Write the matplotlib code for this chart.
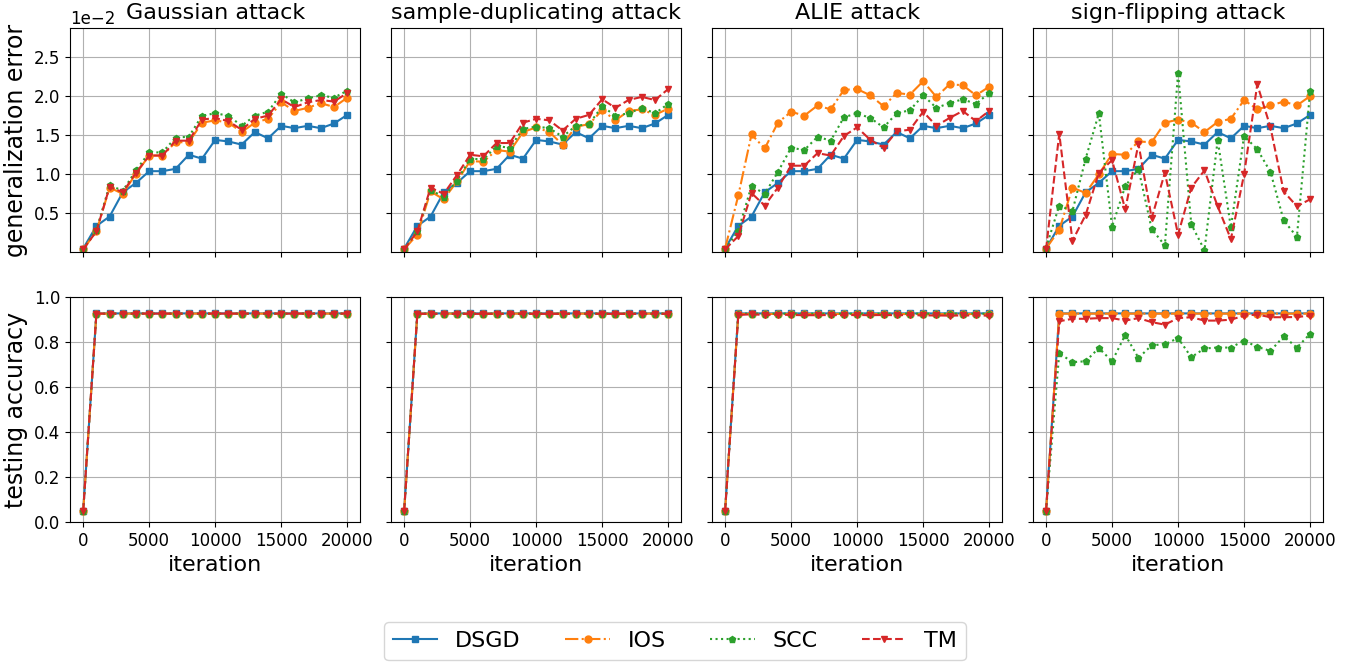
import matplotlib
matplotlib.use("Agg")
import matplotlib.pyplot as plt
import numpy as np

iterations = [0, 1000, 2000, 3000, 4000, 5000, 6000, 7000, 8000, 9000, 10000,
              11000, 12000, 13000, 14000, 15000, 16000, 17000, 18000, 19000, 20000]
attacks = ["Gaussian attack", "sample-duplicating attack", "ALIE attack", "sign-flipping attack"]
methods = ["DSGD", "IOS", "SCC", "TM"]

# generalization error (x1e-2)
dsgd_err = [0.05, 0.34, 0.46, 0.77, 0.89, 1.04, 1.04, 1.07, 1.25, 1.20, 1.44,
            1.42, 1.38, 1.54, 1.46, 1.62, 1.59, 1.62, 1.59, 1.65, 1.76]

gauss_ios = [0.04, 0.27, 0.83, 0.75, 1.01, 1.24, 1.24, 1.41, 1.41, 1.66, 1.69,
             1.66, 1.54, 1.66, 1.71, 1.92, 1.81, 1.85, 1.91, 1.86, 1.98]
gauss_scc = [0.04, 0.29, 0.86, 0.79, 1.05, 1.28, 1.28, 1.47, 1.48, 1.75, 1.78,
             1.75, 1.62, 1.75, 1.80, 2.03, 1.92, 1.97, 2.01, 1.98, 2.07]
gauss_tm = [0.04, 0.27, 0.84, 0.77, 1.02, 1.24, 1.24, 1.43, 1.43, 1.70, 1.72,
            1.68, 1.57, 1.71, 1.75, 1.96, 1.86, 1.92, 1.95, 1.93, 2.04]

dup_ios = [0.04, 0.23, 0.78, 0.68, 0.91, 1.17, 1.16, 1.31, 1.29, 1.54, 1.60,
           1.54, 1.38, 1.61, 1.64, 1.82, 1.69, 1.81, 1.83, 1.76, 1.84]
dup_scc = [0.04, 0.28, 0.80, 0.71, 0.92, 1.20, 1.19, 1.36, 1.34, 1.58, 1.61,
           1.59, 1.48, 1.62, 1.64, 1.87, 1.75, 1.78, 1.85, 1.78, 1.90]
dup_tm = [0.04, 0.27, 0.83, 0.75, 0.99, 1.25, 1.23, 1.40, 1.40, 1.66, 1.71,
          1.69, 1.56, 1.71, 1.76, 1.96, 1.85, 1.95, 1.99, 1.95, 2.09]

alie_ios = [0.05, 0.73, 1.51, 1.33, 1.66, 1.80, 1.75, 1.88, 1.83, 2.08, 2.09,
            2.01, 1.87, 2.04, 2.02, 2.19, 1.99, 2.15, 2.14, 2.01, 2.12]
alie_scc = [0.04, 0.28, 0.85, 0.75, 1.03, 1.34, 1.31, 1.48, 1.43, 1.73, 1.78,
            1.72, 1.60, 1.78, 1.82, 2.01, 1.85, 1.91, 1.96, 1.90, 2.04]
alie_tm = [0.04, 0.21, 0.76, 0.60, 0.83, 1.11, 1.11, 1.27, 1.24, 1.49, 1.60,
           1.44, 1.34, 1.55, 1.57, 1.80, 1.62, 1.72, 1.81, 1.68, 1.81]

sf_ios = [0.05, 0.29, 0.83, 0.76, 1.00, 1.26, 1.25, 1.42, 1.41, 1.66, 1.70,
          1.66, 1.54, 1.67, 1.71, 1.95, 1.83, 1.88, 1.93, 1.88, 2.00]
sf_scc = [0.06, 0.60, 0.53, 1.20, 1.78, 0.33, 0.85, 1.07, 0.30, 0.09, 2.30,
          0.36, 0.03, 1.44, 0.32, 1.49, 1.32, 1.03, 0.41, 0.20, 2.06]
sf_tm = [0.04, 1.52, 0.15, 0.48, 1.02, 1.18, 0.55, 1.39, 0.44, 1.02, 0.23,
         0.83, 1.05, 0.59, 0.17, 1.00, 2.15, 1.60, 0.78, 0.59, 0.68]

# testing accuracy
dsgd_acc = [0.05, 0.928, 0.928, 0.928, 0.928, 0.928, 0.928, 0.928, 0.928, 0.928, 0.928,
            0.928, 0.928, 0.928, 0.928, 0.928, 0.928, 0.928, 0.928, 0.928, 0.928]
gauss_ios_acc = [0.05, 0.927, 0.927, 0.927, 0.927, 0.927, 0.927, 0.927, 0.927, 0.927, 0.927,
                 0.927, 0.927, 0.927, 0.927, 0.927, 0.927, 0.927, 0.927, 0.927, 0.927]
gauss_scc_acc = [0.05, 0.927, 0.927, 0.927, 0.927, 0.927, 0.927, 0.927, 0.927, 0.927, 0.927,
                 0.927, 0.927, 0.927, 0.927, 0.927, 0.927, 0.927, 0.927, 0.927, 0.927]
gauss_tm_acc = [0.05, 0.927, 0.927, 0.927, 0.927, 0.927, 0.927, 0.927, 0.927, 0.927, 0.927,
                0.927, 0.927, 0.927, 0.927, 0.927, 0.927, 0.927, 0.927, 0.927, 0.927]
dup_ios_acc = [0.05, 0.927, 0.927, 0.927, 0.927, 0.927, 0.927, 0.927, 0.927, 0.927, 0.927,
               0.927, 0.927, 0.927, 0.927, 0.927, 0.927, 0.927, 0.927, 0.927, 0.927]
dup_scc_acc = [0.05, 0.927, 0.927, 0.927, 0.927, 0.927, 0.927, 0.927, 0.927, 0.927, 0.927,
               0.927, 0.927, 0.927, 0.927, 0.927, 0.927, 0.927, 0.927, 0.927, 0.927]
dup_tm_acc = [0.05, 0.926, 0.926, 0.926, 0.926, 0.926, 0.926, 0.926, 0.926, 0.926, 0.926,
              0.926, 0.926, 0.926, 0.926, 0.926, 0.926, 0.926, 0.926, 0.926, 0.926]
alie_ios_acc = [0.05, 0.925, 0.926, 0.925, 0.926, 0.925, 0.925, 0.925, 0.926, 0.925, 0.925,
                0.925, 0.925, 0.925, 0.925, 0.925, 0.925, 0.925, 0.925, 0.925, 0.925]
alie_scc_acc = [0.05, 0.927, 0.927, 0.927, 0.927, 0.927, 0.927, 0.927, 0.927, 0.927, 0.927,
                0.927, 0.927, 0.927, 0.927, 0.927, 0.927, 0.927, 0.927, 0.927, 0.927]
alie_tm_acc = [0.05, 0.921, 0.924, 0.921, 0.923, 0.921, 0.920, 0.920, 0.921, 0.920, 0.921,
               0.920, 0.921, 0.920, 0.921, 0.919, 0.919, 0.918, 0.919, 0.919, 0.918]
sf_ios_acc = [0.05, 0.927, 0.927, 0.927, 0.927, 0.927, 0.927, 0.927, 0.927, 0.927, 0.927,
              0.927, 0.927, 0.927, 0.927, 0.927, 0.927, 0.927, 0.927, 0.927, 0.927]
sf_scc_acc = [0.05, 0.751, 0.711, 0.715, 0.774, 0.715, 0.832, 0.730, 0.786, 0.791, 0.818,
              0.733, 0.772, 0.776, 0.776, 0.807, 0.779, 0.761, 0.826, 0.776, 0.837]
sf_tm_acc = [0.05, 0.893, 0.904, 0.904, 0.907, 0.907, 0.896, 0.907, 0.889, 0.878, 0.907,
             0.911, 0.896, 0.896, 0.900, 0.918, 0.923, 0.911, 0.911, 0.912, 0.918]

err_data = [
    [dsgd_err, gauss_ios, gauss_scc, gauss_tm],
    [dsgd_err, dup_ios, dup_scc, dup_tm],
    [dsgd_err, alie_ios, alie_scc, alie_tm],
    [dsgd_err, sf_ios, sf_scc, sf_tm],
]
acc_data = [
    [dsgd_acc, gauss_ios_acc, gauss_scc_acc, gauss_tm_acc],
    [dsgd_acc, dup_ios_acc, dup_scc_acc, dup_tm_acc],
    [dsgd_acc, alie_ios_acc, alie_scc_acc, alie_tm_acc],
    [dsgd_acc, sf_ios_acc, sf_scc_acc, sf_tm_acc],
]

styles = [
    dict(color="tab:blue", linestyle="-", marker="s"),
    dict(color="tab:orange", linestyle="-.", marker="o"),
    dict(color="tab:green", linestyle=":", marker="p"),
    dict(color="tab:red", linestyle="--", marker="v"),
]

W, H = 1361, 662
fig, axes = plt.subplots(2, 4, figsize=(W / 100, H / 100), dpi=100,
                         sharex=True, sharey="row")
fig.subplots_adjust(left=70 / W, right=1323.3 / W, top=1 - 27.7 / H,
                    bottom=1 - 522 / H, wspace=0.105, hspace=0.199)

x = np.array(iterations)
handles = []
for c in range(4):
    ax_e = axes[0, c]
    ax_a = axes[1, c]
    for m in range(4):
        h, = ax_e.plot(x, np.array(err_data[c][m]) * 1e-2, markersize=5,
                       linewidth=1.5, label=methods[m], **styles[m])
        ax_a.plot(x, acc_data[c][m], markersize=5, linewidth=1.5, **styles[m])
        if c == 0:
            handles.append(h)
    ax_e.set_title(attacks[c], fontsize=16)
    ax_a.set_xlabel("iteration", fontsize=16)
    for ax in (ax_e, ax_a):
        ax.grid(True, color="#b0b0b0", linewidth=0.8)
        ax.tick_params(labelsize=12)

axes[0, 0].set_ylim(0, 0.02875)
axes[0, 0].set_yticks([0.005, 0.010, 0.015, 0.020, 0.025])
axes[0, 0].ticklabel_format(axis="y", style="sci", scilimits=(-2, -2))
axes[0, 0].yaxis.get_offset_text().set_fontsize(12)
axes[1, 0].set_ylim(0, 1.0)
axes[1, 0].set_yticks([0.0, 0.2, 0.4, 0.6, 0.8, 1.0])
axes[0, 0].set_xticks([0, 5000, 10000, 15000, 20000])
axes[0, 0].set_ylabel("generalization error", fontsize=17)
axes[1, 0].set_ylabel("testing accuracy", fontsize=17)

fig.legend(handles, methods, loc="lower center", ncol=4, fontsize=16,
           bbox_to_anchor=(675 / W, 2 / H), borderaxespad=0)

fig.savefig("out.png", dpi=100)
